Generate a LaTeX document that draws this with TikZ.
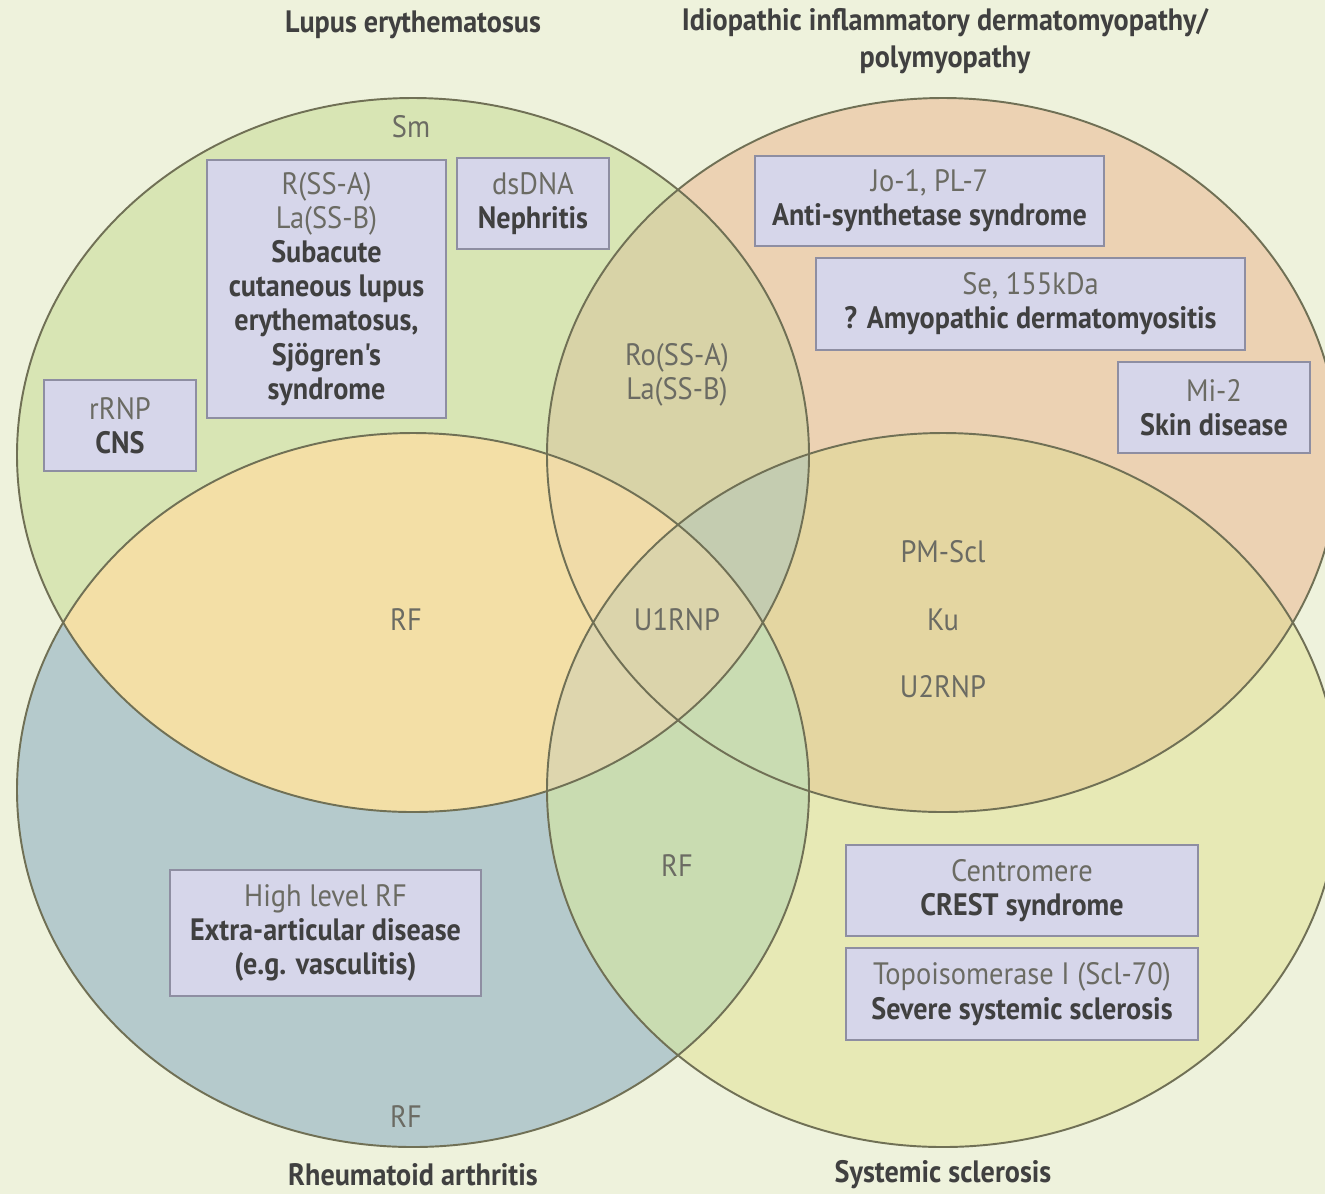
\documentclass[tikz,border=0pt]{standalone}
\usepackage{fontspec}
\setmainfont{PT Sans}[FakeStretch=0.92]
\newfontfamily\diseasefont{PT Sans}[FakeStretch=0.91]
\usetikzlibrary{positioning}

\definecolor{paper}{HTML}{EEF2DC}
\definecolor{lupusgreen}{HTML}{D8E5B4}
\definecolor{iimpeach}{HTML}{ECD2B3}
\definecolor{rablue}{HTML}{B5CACC}
\definecolor{sscyellow}{HTML}{E7E9B5}
\definecolor{lupusra}{HTML}{F3DFA6}
\definecolor{lupusiim}{HTML}{D8D3A7}
\definecolor{iimssc}{HTML}{E4D6A1}
\definecolor{rassc}{HTML}{C9DCB1}
\definecolor{lirthree}{HTML}{F0DBA8}
\definecolor{listhree}{HTML}{C4CCB0}
\definecolor{lrsthree}{HTML}{DED6AE}
\definecolor{irsthree}{HTML}{C9DCB2}
\definecolor{allfour}{HTML}{DBD4AB}
\definecolor{vennline}{HTML}{707055}
\definecolor{boxfill}{HTML}{D6D6EA}
\definecolor{boxline}{HTML}{8E8EA2}
\definecolor{antigengray}{HTML}{6B6B63}
\definecolor{diseasedark}{HTML}{404040}

\newcommand{\antigen}[1]{{\color{antigengray}#1}}
\newcommand{\disease}[1]{{\diseasefont\bfseries\color{diseasedark}#1}}

\begin{document}
\begin{tikzpicture}[
    x=1cm, y=-1cm,
    font=\fontsize{8.8}{9.7}\selectfont,
    venn radii/.style={x radius=3.96cm, y radius=3.57cm},
    venn line/.style={draw=vennline, line width=0.55pt},
    antigen box/.style={
        draw=boxline, fill=boxfill, line width=0.6pt,
        align=center, inner sep=0pt
    },
    antigen label/.style={text=antigengray, align=center},
    disease title/.style={font=\diseasefont\bfseries\fontsize{8.8}{10.5}\selectfont,
        text=diseasedark, align=center}
]
    \clip (0,0) rectangle (13.25,11.94);
    \fill[paper] (0,0) rectangle (13.25,11.94);

    \coordinate (lupus) at (4.13,4.55);
    \coordinate (iim) at (9.43,4.55);
    \coordinate (ra) at (4.13,7.90);
    \coordinate (ssc) at (9.43,7.90);

    % single sets
    \fill[lupusgreen] (lupus) ellipse [venn radii];
    \fill[iimpeach] (iim) ellipse [venn radii];
    \fill[rablue] (ra) ellipse [venn radii];
    \fill[sscyellow] (ssc) ellipse [venn radii];

    % overlaps
    \begin{scope}
        \clip (lupus) ellipse [venn radii];
        \fill[lupusra] (ra) ellipse [venn radii];
        \fill[lupusiim] (iim) ellipse [venn radii];
    \end{scope}
    \begin{scope}
        \clip (ssc) ellipse [venn radii];
        \fill[iimssc] (iim) ellipse [venn radii];
        \fill[rassc] (ra) ellipse [venn radii];
    \end{scope}
    \begin{scope}
        \clip (lupus) ellipse [venn radii];
        \clip (iim) ellipse [venn radii];
        \fill[lirthree] (ra) ellipse [venn radii];
        \fill[listhree] (ssc) ellipse [venn radii];
    \end{scope}
    \begin{scope}
        \clip (ra) ellipse [venn radii];
        \clip (ssc) ellipse [venn radii];
        \fill[lrsthree] (lupus) ellipse [venn radii];
        \fill[irsthree] (iim) ellipse [venn radii];
    \end{scope}
    \begin{scope}
        \clip (lupus) ellipse [venn radii];
        \clip (iim) ellipse [venn radii];
        \clip (ra) ellipse [venn radii];
        \fill[allfour] (ssc) ellipse [venn radii];
    \end{scope}

    \foreach \set in {lupus,iim,ra,ssc}
        \draw[venn line] (\set) ellipse [venn radii];

    % disease names
    \node[disease title] (sletitle) at (4.13,0.25) {Lupus erythematosus};
    \node[disease title] (iimtitle) at (9.45,0.41)
        {Idiopathic inflammatory dermatomyopathy/\\polymyopathy};
    \node[disease title] (ratitle) at (4.13,11.75) {Rheumatoid arthritis};
    \node[disease title] (ssctitle) at (9.43,11.75) {Systemic sclerosis};

    % antigens without a box
    \node[antigen label] (sm) at (4.11,1.27) {Sm};
    \node[antigen label] (ro) at (6.77,3.75) {Ro(SS-A)\\La(SS-B)};
    \node[antigen label] (rfupper) at (4.06,6.20) {RF};
    \node[antigen label] (uonernp) at (6.77,6.20) {U1RNP};
    \node[antigen label] (pmscl) at (9.43,5.52) {PM-Scl};
    \node[antigen label] (ku) at (9.43,6.20) {Ku};
    \node[antigen label] (utwornp) at (9.43,6.87) {U2RNP};
    \node[antigen label] (rfcentre) at (6.77,8.66) {RF};
    \node[antigen label] (rflower) at (4.06,11.17) {RF};

    % antigen / clinical association boxes
    \node[antigen box, minimum width=2.39cm, minimum height=2.58cm] (scle)
        at (3.265,2.89)
        {\antigen{R(SS-A)}\\ \antigen{La(SS-B)}\\ \disease{Subacute}\\
         \disease{cutaneous lupus}\\ \disease{erythematosus,}\\
         \disease{Sjögren's}\\ \disease{syndrome}};
    \node[antigen box, minimum width=1.52cm, minimum height=0.91cm] (dsdna)
        at (5.33,2.035) {\antigen{dsDNA}\\ \disease{Nephritis}};
    \node[antigen box, minimum width=1.52cm, minimum height=0.91cm] (rrnp)
        at (1.20,4.255) {\antigen{rRNP}\\ \disease{CNS}};
    \node[antigen box, minimum width=3.49cm, minimum height=0.90cm] (jo)
        at (9.295,2.01) {\antigen{Jo-1, PL-7}\\ \disease{Anti-synthetase syndrome}};
    \node[antigen box, minimum width=4.29cm, minimum height=0.92cm] (se)
        at (10.305,3.04) {\antigen{Se, 155kDa}\\ \disease{? Amyopathic dermatomyositis}};
    \node[antigen box, minimum width=1.92cm, minimum height=0.91cm] (mi)
        at (12.14,4.075) {\antigen{Mi-2}\\ \disease{Skin disease}};
    \node[antigen box, minimum width=3.11cm, minimum height=1.26cm] (highrf)
        at (3.255,9.33)
        {\antigen{High level RF}\\ \disease{Extra-articular disease}\\
         \disease{(e.g. vasculitis)}};
    \node[antigen box, minimum width=3.52cm, minimum height=0.91cm] (centromere)
        at (10.22,8.905) {\antigen{Centromere}\\ \disease{CREST syndrome}};
    \node[antigen box, minimum width=3.52cm, minimum height=0.92cm,
          below=0.1cm of centromere] (topo)
        {\antigen{Topoisomerase I (Scl-70)}\\ \disease{Severe systemic sclerosis}};

\end{tikzpicture}
\end{document}
